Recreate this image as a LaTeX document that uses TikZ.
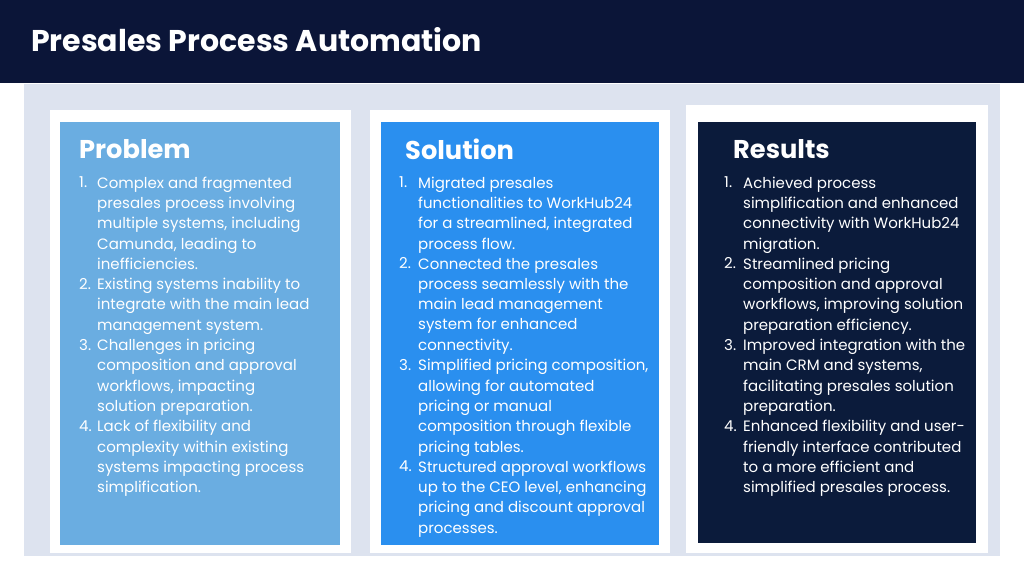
\documentclass[tikz,border=0pt]{standalone}
\usepackage{fontspec}
\setmainfont{Poppins}
\definecolor{navy}{HTML}{0B1538}
\definecolor{bgp}{HTML}{DDE3EF}
\definecolor{cblue}{HTML}{6AADE1}
\definecolor{cmid}{HTML}{2A8FEF}
\definecolor{cdark}{HTML}{0B1B3B}
\begin{document}
\begin{tikzpicture}[x=1pt,y=-1pt,
  body/.style={anchor=north west,inner sep=0pt,text=white,align=left,font=\fontsize{15}{20.3}\selectfont},
  head/.style={anchor=west,inner sep=0pt,text=white,font=\fontsize{25.7}{28}\selectfont\bfseries},
  frame/.style={fill=white},
]
\useasboundingbox (0,0) rectangle (1024,576);
\fill[white] (0,0) rectangle (1024,576);
\fill[navy] (0,0) rectangle (1024,83);
\node[anchor=west,inner sep=0pt,text=white,font=\fontsize{30}{32}\selectfont\bfseries] (title) at (31,40) {Presales Process Automation};
\fill[bgp] (24,84) rectangle (1000,556);
% cards
\fill[frame] (50,110) rectangle (351,553);
\fill[cblue] (60,122) rectangle (340,545);
\fill[frame] (370,110) rectangle (670,553);
\fill[cmid] (381,122) rectangle (659,545);
\fill[frame] (686,105) rectangle (988,553);
\fill[cdark] (698,122) rectangle (976,543);
\node[head] (h1) at (79,149) {Problem};
\node[head] (h2) at (405,149) {Solution};
\node[head] (h3) at (733,149) {Results};
% Problem
\node[body] (p1n) at (79,176.5) {1.};
\node[body] (p1) at (97,176.5) {Complex and fragmented\\presales process involving\\multiple systems, including\\Camunda, leading to\\inefficiencies.};
\node[body] (p2n) at (79,278) {2.};
\node[body] (p2) at (97,278) {Existing systems inability to\\integrate with the main lead\\management system.};
\node[body] (p3n) at (79,338.9) {3.};
\node[body] (p3) at (97,338.9) {Challenges in pricing\\composition and approval\\workflows, impacting\\solution preparation.};
\node[body] (p4n) at (79,420.1) {4.};
\node[body] (p4) at (97,420.1) {Lack of flexibility and\\complexity within existing\\systems impacting process\\simplification.};
% Solution
\node[body] (s1n) at (399,176.5) {1.};
\node[body] (s1) at (418,176.5) {Migrated presales\\functionalities to WorkHub24\\for a streamlined, integrated\\process flow.};
\node[body] (s2n) at (399,257.7) {2.};
\node[body] (s2) at (418,257.7) {Connected the presales\\process seamlessly with the\\main lead management\\system for enhanced\\connectivity.};
\node[body] (s3n) at (399,359.2) {3.};
\node[body] (s3) at (418,359.2) {Simplified pricing composition,\\allowing for automated\\pricing or manual\\composition through flexible\\pricing tables.};
\node[body] (s4n) at (399,460.7) {4.};
\node[body] (s4) at (418,460.7) {Structured approval workflows\\up to the CEO level, enhancing\\pricing and discount approval\\processes.};
% Results
\node[body] (r1n) at (724,176.5) {1.};
\node[body] (r1) at (743,176.5) {Achieved process\\simplification and enhanced\\connectivity with WorkHub24\\migration.};
\node[body] (r2n) at (724,257.7) {2.};
\node[body] (r2) at (743,257.7) {Streamlined pricing\\composition and approval\\workflows, improving solution\\preparation efficiency.};
\node[body] (r3n) at (724,338.9) {3.};
\node[body] (r3) at (743,338.9) {Improved integration with the\\main CRM and systems,\\facilitating presales solution\\preparation.};
\node[body] (r4n) at (724,420.1) {4.};
\node[body] (r4) at (743,420.1) {Enhanced flexibility and user-\\friendly interface contributed\\to a more efficient and\\simplified presales process.};
\end{tikzpicture}
\end{document}
